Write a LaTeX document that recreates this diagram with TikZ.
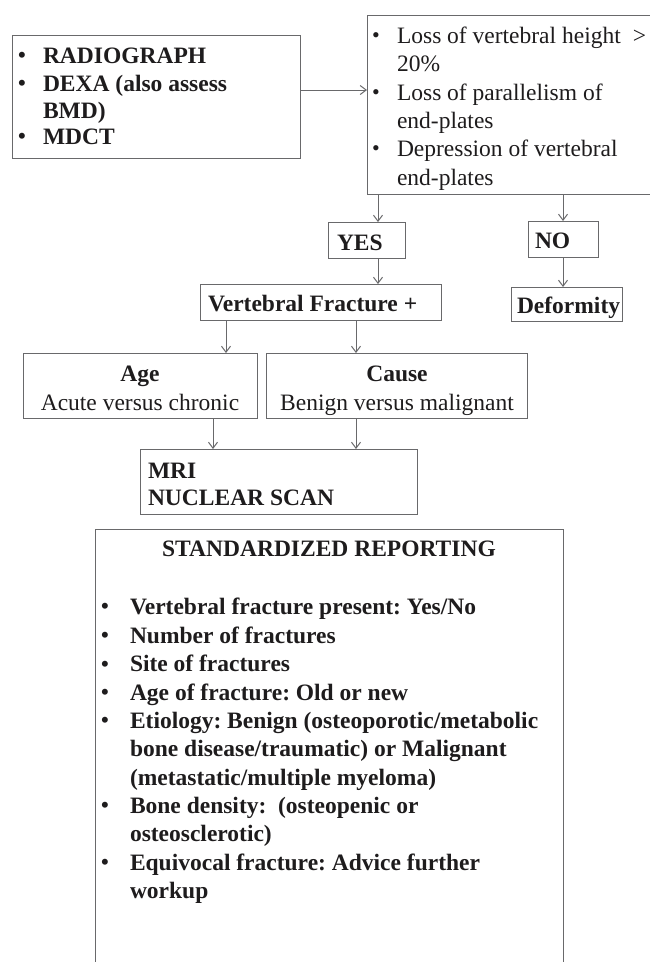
\documentclass[tikz,border=0pt]{standalone}
\usepackage{fontspec}
\setmainfont{Liberation Serif}
\usetikzlibrary{arrows.meta}
\definecolor{linegray}{RGB}{105,105,107}
\definecolor{ink}{RGB}{30,28,29}
\newcommand{\bul}[1]{\makebox[#1][l]{\raisebox{0.5pt}{\fontsize{22}{22}\selectfont\textbullet}}}
\frenchspacing
\begin{document}
\begin{tikzpicture}[x=1pt,y=-1pt,
  box/.style={draw=linegray, line width=1pt, rectangle, inner sep=0pt, outer sep=0pt, anchor=north west},
  txt/.style={inner sep=0pt, outer sep=0pt, anchor=base west, text=ink, font=\fontsize{23.5}{28.4}\selectfont},
  btxt/.style={txt, font=\fontsize{23.5}{28.4}\selectfont\bfseries},
  ctxt/.style={txt, anchor=base},
  cbtxt/.style={btxt, anchor=base},
  arr/.style={draw=linegray, line width=1pt, -{Straight Barb[length=6pt,width=9pt,line width=1pt]}}]
\useasboundingbox (0,0) rectangle (650,962);

% boxes
\node[box, minimum width=288pt, minimum height=123pt] (src) at (12,35) {};
\node[box, minimum width=284pt, minimum height=179pt] (crit) at (367,15) {};
\node[box, minimum width=77pt, minimum height=36pt] (yes) at (328,222) {};
\node[box, minimum width=70pt, minimum height=36pt] (no) at (528,221) {};
\node[box, minimum width=241pt, minimum height=36pt] (vf) at (200,284) {};
\node[box, minimum width=111pt, minimum height=34pt] (deform) at (511,287) {};
\node[box, minimum width=234pt, minimum height=65pt] (age) at (23,353) {};
\node[box, minimum width=261pt, minimum height=65pt] (cause) at (266,353) {};
\node[box, minimum width=277pt, minimum height=65pt] (mri) at (140,449) {};
\node[box, minimum width=468pt, minimum height=460pt] (std) at (95,529) {};

% source box text
\node[btxt] (s1) at (18,63) {\bul{25pt}RADIOGRAPH};
\node[btxt] (s2) at (18,91) {\bul{25pt}DEXA (also assess};
\node[btxt] (s3) at (43,118) {BMD)};
\node[btxt] (s4) at (18,144) {\bul{25pt}MDCT};

% criteria box text
\node[txt] (c1) at (372,43) {\bul{25pt}Loss of vertebral height\hspace{12pt}>};
\node[txt] (c2) at (397,71) {20\%};
\node[txt] (c3) at (372,100) {\bul{25pt}Loss of parallelism of};
\node[txt] (c4) at (397,128) {end-plates};
\node[txt] (c5) at (372,156) {\bul{25pt}Depression of vertebral};
\node[txt] (c6) at (397,185) {end-plates};

% small boxes text
\node[btxt] (tyes) at (337,250) {YES};
\node[btxt] (tno) at (535,248) {NO};
\node[btxt] (tvf) at (208,311) {Vertebral Fracture +};
\node[btxt] (tdef) at (517,313) {Deformity};

\node[cbtxt] (tage) at (140,381) {Age};
\node[ctxt] (tage2) at (140,410) {Acute versus chronic};
\node[cbtxt] (tcause) at (397,381) {Cause};
\node[ctxt] (tcause2) at (397,410) {Benign versus malignant};

\node[btxt] (tmri) at (148,478) {MRI};
\node[btxt] (tnuc) at (148,505) {NUCLEAR SCAN};

% standardized reporting
\node[cbtxt] (ttitle) at (329,556) {STANDARDIZED REPORTING};
\node[btxt] (r1) at (101,614) {\bul{29pt}Vertebral fracture present: Yes/No};
\node[btxt] (r2) at (101,643) {\bul{29pt}Number of fractures};
\node[btxt] (r3) at (101,671.5) {\bul{29pt}Site of fractures};
\node[btxt] (r4) at (101,700) {\bul{29pt}Age of fracture: Old or new};
\node[btxt] (r5) at (101,728) {\bul{29pt}Etiology: Benign (osteoporotic/metabolic};
\node[btxt] (r5b) at (130,756.5) {bone disease/traumatic) or Malignant};
\node[btxt] (r5c) at (130,785) {(metastatic/multiple myeloma)};
\node[btxt] (r6) at (101,813) {\bul{29pt}Bone density:\ \ (osteopenic or};
\node[btxt] (r6b) at (130,841.5) {osteosclerotic)};
\node[btxt] (r7) at (101,870) {\bul{29pt}Equivocal fracture: Advice further};
\node[btxt] (r7b) at (130,898) {workup};

% connectors
\draw[arr] (src.east |- 0,90) -- (crit.west |- 0,90);
\draw[arr] (378,0 |- crit.south) -- (378,0 |- yes.north);
\draw[arr] (563,0 |- crit.south) -- (563,0 |- no.north);
\draw[arr] (378,0 |- yes.south) -- (378,0 |- vf.north);
\draw[arr] (563,0 |- no.south) -- (563,0 |- deform.north);
\draw[arr] (226,0 |- vf.south) -- (226,0 |- age.north);
\draw[arr] (356,0 |- vf.south) -- (356,0 |- cause.north);
\draw[arr] (213,0 |- age.south) -- (213,0 |- mri.north);
\draw[arr] (356,0 |- cause.south) -- (356,0 |- mri.north);
\end{tikzpicture}
\end{document}
